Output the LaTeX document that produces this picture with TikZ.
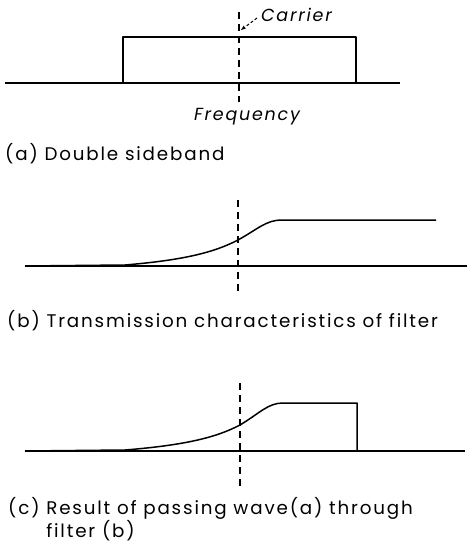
\documentclass[tikz,border=0pt]{standalone}
\usepackage{fontspec}
\setmainfont{Poppins}[LetterSpace=10]
\usetikzlibrary{arrows.meta}
\begin{document}
\begin{tikzpicture}[x=1pt,y=-1pt,
  wave/.style={line width=1.5pt, line join=round},
  axis/.style={line width=1.4pt},
  carrierline/.style={line width=1.1pt, dash pattern=on 7pt off 5pt},
  lab/.style={anchor=west, inner sep=0pt, font=\fontsize{18.3}{19.5}\selectfont},
  ital/.style={inner sep=0pt, font=\fontsize{17.5}{21}\selectfont\itshape}]
\useasboundingbox (0,0) rectangle (467,543);
% ---- (a)
\coordinate (a0) at (5,83); \coordinate (a1) at (400,83);
\draw[axis] (a0) -- (a1);
\coordinate (r1) at (123,83); \coordinate (r2) at (123,37);
\coordinate (r3) at (356,37); \coordinate (r4) at (356,83);
\draw[wave] (r1) -- (r2) -- (r3) -- (r4);
\coordinate (ca) at (239,12); \coordinate (cb) at (239,102);
\draw[carrierline] (ca) -- (cb);
\node[ital, anchor=west] (carrier) at (261,15) {Carrier};
\coordinate (ctip) at (241,30);
\draw[line width=1pt, dash pattern=on 3pt off 2pt, -{Stealth[length=5pt]}] (carrier.west) ++(-4,3) coordinate (ctail) -- (ctip);
\node[ital] (freq) at (247,117) {Frequency};
\node[lab] (la) at (5,154) {(a) Double sideband};
% ---- (b)
\coordinate (b0) at (25,266); \coordinate (b1) at (467,266);
\draw[axis] (b0) -- (b1);
\coordinate (bs) at (125,265); \coordinate (bm) at (238,240);
\coordinate (bt) at (282,220); \coordinate (be) at (436,220);
\draw[wave] (b0) -- (bs) .. controls (185,260) and (215,252) .. (bm)
  .. controls (258,229) and (266,220) .. (bt) -- (be);
\coordinate (bda) at (238,200); \coordinate (bdb) at (238,292);
\draw[carrierline] (bda) -- (bdb);
\node[lab] (lb) at (7,321) {(b) Transmission characteristics of filter};
% ---- (c)
\coordinate (c0) at (25,451); \coordinate (c1) at (465,451);
\draw[axis] (c0) -- (c1);
\coordinate (cs) at (125,450); \coordinate (cm) at (240,425);
\coordinate (ct) at (283,403); \coordinate (ce) at (357,403);
\coordinate (cf) at (357,451);
\draw[wave] (c0) -- (cs) .. controls (187,445) and (217,437) .. (cm)
  .. controls (260,413) and (268,403) .. (ct) -- (ce) -- (cf);
\coordinate (cda) at (240,383); \coordinate (cdb) at (240,487);
\draw[carrierline] (cda) -- (cdb);
\node[lab, align=left, anchor=north west] (lc) at (8,497) {(c) Result of passing wave(a) through\\\phantom{(c) }filter (b)};
\end{tikzpicture}
\end{document}
